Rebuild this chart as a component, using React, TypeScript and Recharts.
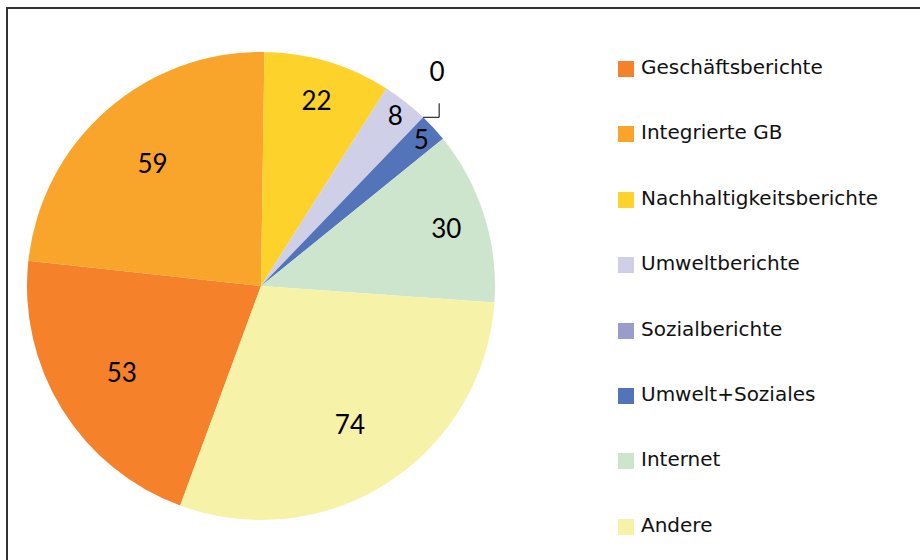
import React from 'react';
import { PieChart, Pie, Cell } from 'recharts';

const categories = [
  'Geschäftsberichte',
  'Integrierte GB',
  'Nachhaltigkeitsberichte',
  'Umweltberichte',
  'Sozialberichte',
  'Umwelt+Soziales',
  'Internet',
  'Andere',
];
const counts = [53, 59, 22, 8, 0, 5, 30, 74];
const colors = ['#F5812A', '#F9A42B', '#FDD22B', '#CFCFE8', '#9C9CCB', '#5374B9', '#CDE5CC', '#F6F2A8'];

const chartData = categories.map((name, i) => ({ name, value: counts[i] }));

const RAD = Math.PI / 180;
const numFont = 'Lato, "Open Sans", sans-serif';

// Excel-like "best fit" labels: small slices get pushed outward
const renderLabel = (props: any) => {
  const { cx, cy, midAngle, outerRadius, percent, value } = props;
  const cos = Math.cos(-midAngle * RAD);
  const sin = Math.sin(-midAngle * RAD);
  if (value === 0) {
    const px = cx + outerRadius * cos;
    const py = cy + outerRadius * sin;
    return (
      <g>
        <polyline
          points={`${px},${py} ${px + 16},${py} ${px + 16},${py - 14}`}
          fill="none"
          stroke="#000"
          strokeWidth={1}
        />
        <text x={px + 14} y={py - 46} textAnchor="middle" dominantBaseline="central" fontSize={26} fontFamily={numFont} fill="#000">
          {value}
        </text>
      </g>
    );
  }
  const f = percent > 0.15 ? 0.7 : percent > 0.05 ? 0.83 : 0.93;
  const x = cx + outerRadius * f * cos;
  const y = cy + outerRadius * f * sin;
  return (
    <text x={x} y={y} textAnchor="middle" dominantBaseline="central" fontSize={26} fontFamily={numFont} fill="#000">
      {value}
    </text>
  );
};

const LegendBox = () => (
  <div
    style={{
      position: 'absolute',
      left: 618,
      top: 55,
      fontFamily: '"DejaVu Sans", sans-serif',
      fontSize: 20,
      color: '#111',
    }}
  >
    {categories.map((name, i) => (
      <div key={name} style={{ height: 65.4, display: 'flex', alignItems: 'flex-start' }}>
        <span style={{ width: 16, height: 16, background: colors[i], marginTop: 6, marginRight: 7, flexShrink: 0 }} />
        <span style={{ lineHeight: '24px', whiteSpace: 'nowrap' }}>{name}</span>
      </div>
    ))}
  </div>
);

const App: React.FC = () => {
  return (
    <div style={{ position: 'absolute', left: 0, top: 0, width: 920, height: 560, background: '#fff', overflow: 'hidden' }}>
      <div
        style={{
          position: 'absolute',
          left: 6,
          top: 7,
          width: 940,
          height: 580,
          borderLeft: '2px solid #333',
          borderTop: '2px solid #333',
        }}
      />
      <div style={{ position: 'absolute', left: 0, top: 0 }}>
        <PieChart width={920} height={560} margin={{ top: 0, right: 0, bottom: 0, left: 0 }}>
          <Pie
            data={chartData}
            dataKey="value"
            nameKey="name"
            cx={261}
            cy={286}
            outerRadius={234}
            startAngle={249.8}
            endAngle={-110.2}
            stroke="none"
            labelLine={false}
            label={renderLabel}
            isAnimationActive={false}
          >
            {chartData.map((d, i) => (
              <Cell key={d.name} fill={colors[i]} />
            ))}
          </Pie>
        </PieChart>
      </div>
      <LegendBox />
    </div>
  );
};

export default App;
